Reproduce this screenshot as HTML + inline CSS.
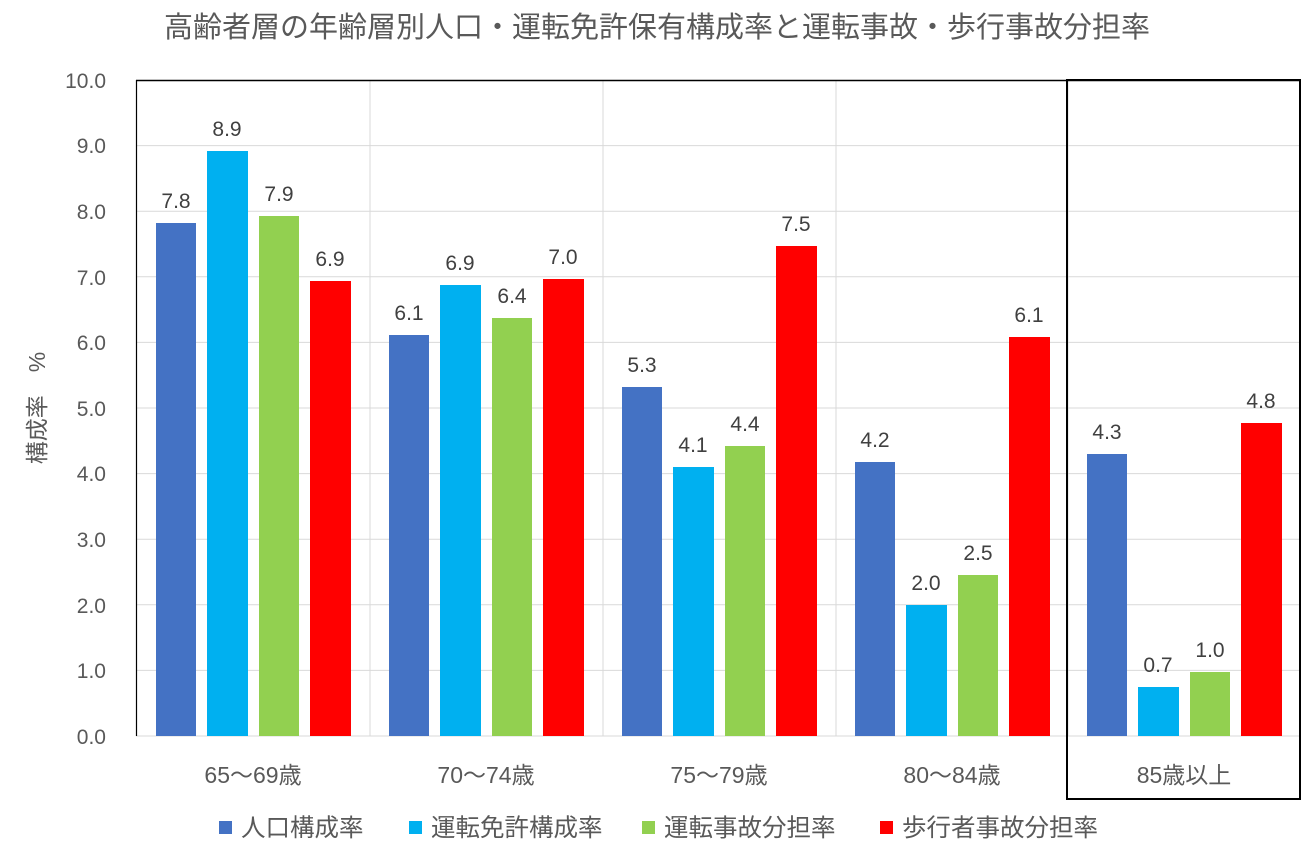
<!DOCTYPE html>
<html><head><meta charset="utf-8"><style>
body{margin:0;background:#fff}
text{font-family:"Liberation Sans","Noto Sans CJK JP",sans-serif;fill:#595959}
</style></head><body>
<svg width="1315" height="855" xmlns="http://www.w3.org/2000/svg">
<text x="657" y="37" font-size="29" text-anchor="middle">高齢者層の年齢層別人口・運転免許保有構成率と運転事故・歩行事故分担率</text>
<g stroke="#d9d9d9" stroke-width="1">
<line x1="136" x2="1300" y1="145.6" y2="145.6"/><line x1="136" x2="1300" y1="211.2" y2="211.2"/>
<line x1="136" x2="1300" y1="276.8" y2="276.8"/><line x1="136" x2="1300" y1="342.4" y2="342.4"/>
<line x1="136" x2="1300" y1="408" y2="408"/><line x1="136" x2="1300" y1="473.6" y2="473.6"/>
<line x1="136" x2="1300" y1="539.2" y2="539.2"/><line x1="136" x2="1300" y1="604.8" y2="604.8"/>
<line x1="136" x2="1300" y1="670.4" y2="670.4"/>
<line x1="370" x2="370" y1="80" y2="736"/><line x1="603" x2="603" y1="80" y2="736"/>
<line x1="836" x2="836" y1="80" y2="736"/><line x1="1068" x2="1068" y1="80" y2="736"/>
<line x1="1300" x2="1300" y1="80" y2="736"/>
<line x1="136" x2="1300" y1="736" y2="736"/>
</g>
<line x1="136" x2="1300" y1="80.5" y2="80.5" stroke="#000" stroke-width="1.5"/>
<line x1="136.5" x2="136.5" y1="80" y2="736" stroke="#000" stroke-width="1.2"/>
<g font-size="21" text-anchor="end">
<text x="106" y="88">10.0</text><text x="106" y="153">9.0</text><text x="106" y="219">8.0</text>
<text x="106" y="285">7.0</text><text x="106" y="350">6.0</text><text x="106" y="416">5.0</text>
<text x="106" y="481">4.0</text><text x="106" y="547">3.0</text><text x="106" y="613">2.0</text>
<text x="106" y="678">1.0</text><text x="106" y="744">0.0</text>
</g>
<text transform="translate(45,408) rotate(-90)" font-size="23" text-anchor="middle">構成率　%</text>
<g>
<rect x="156" y="223" width="40" height="513" fill="#4472c4"/>
<rect x="207" y="151" width="41" height="585" fill="#00b0f0"/>
<rect x="259" y="216" width="40" height="520" fill="#92d050"/>
<rect x="310" y="281" width="41" height="455" fill="#ff0000"/>
<rect x="389" y="335" width="40" height="401" fill="#4472c4"/>
<rect x="440" y="285" width="41" height="451" fill="#00b0f0"/>
<rect x="492" y="318" width="40" height="418" fill="#92d050"/>
<rect x="543" y="279" width="41" height="457" fill="#ff0000"/>
<rect x="622" y="387" width="40" height="349" fill="#4472c4"/>
<rect x="673" y="467" width="41" height="269" fill="#00b0f0"/>
<rect x="725" y="446" width="40" height="290" fill="#92d050"/>
<rect x="776" y="246" width="41" height="490" fill="#ff0000"/>
<rect x="855" y="462" width="40" height="274" fill="#4472c4"/>
<rect x="906" y="605" width="41" height="131" fill="#00b0f0"/>
<rect x="958" y="575" width="40" height="161" fill="#92d050"/>
<rect x="1009" y="337" width="41" height="399" fill="#ff0000"/>
<rect x="1087" y="454" width="40" height="282" fill="#4472c4"/>
<rect x="1138" y="687" width="41" height="49" fill="#00b0f0"/>
<rect x="1190" y="672" width="40" height="64" fill="#92d050"/>
<rect x="1241" y="423" width="41" height="313" fill="#ff0000"/>
</g>
<g font-size="21" text-anchor="middle" style="fill:#404040">
<text x="176" y="208" style="fill:#404040">7.8</text><text x="227" y="136" style="fill:#404040">8.9</text><text x="279" y="201" style="fill:#404040">7.9</text><text x="330" y="266" style="fill:#404040">6.9</text>
<text x="409" y="320" style="fill:#404040">6.1</text><text x="460" y="270" style="fill:#404040">6.9</text><text x="512" y="303" style="fill:#404040">6.4</text><text x="563" y="264" style="fill:#404040">7.0</text>
<text x="642" y="372" style="fill:#404040">5.3</text><text x="693" y="452" style="fill:#404040">4.1</text><text x="745" y="431" style="fill:#404040">4.4</text><text x="796" y="231" style="fill:#404040">7.5</text>
<text x="875" y="447" style="fill:#404040">4.2</text><text x="926" y="590" style="fill:#404040">2.0</text><text x="978" y="560" style="fill:#404040">2.5</text><text x="1029" y="322" style="fill:#404040">6.1</text>
<text x="1107" y="439" style="fill:#404040">4.3</text><text x="1158" y="672" style="fill:#404040">0.7</text><text x="1210" y="657" style="fill:#404040">1.0</text><text x="1261" y="408" style="fill:#404040">4.8</text>
</g>
<g font-size="23" text-anchor="middle">
<text x="253" y="783">65～69歳</text><text x="486" y="783">70～74歳</text><text x="719" y="783">75～79歳</text>
<text x="952" y="783">80～84歳</text><text x="1184" y="783">85歳以上</text>
</g>
<rect x="1067" y="80" width="233" height="719" fill="none" stroke="#000" stroke-width="2"/>
<g font-size="24.5">
<rect x="219" y="821" width="13" height="13" fill="#4472c4"/><text x="241" y="836">人口構成率</text>
<rect x="409" y="821" width="13" height="13" fill="#00b0f0"/><text x="431" y="836">運転免許構成率</text>
<rect x="642" y="821" width="13" height="13" fill="#92d050"/><text x="664" y="836">運転事故分担率</text>
<rect x="880" y="821" width="13" height="13" fill="#ff0000"/><text x="902" y="836">歩行者事故分担率</text>
</g>
</svg>
</body></html>
